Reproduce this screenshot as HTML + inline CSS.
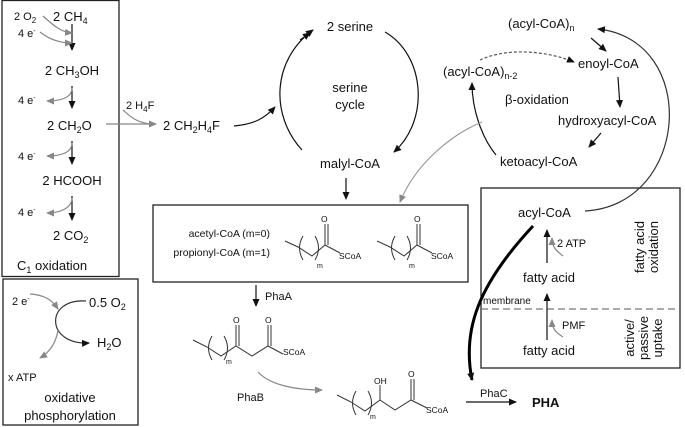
<!DOCTYPE html>
<html><head><style>body{margin:0;background:#fff}svg{display:block}text{font-family:"Liberation Sans",sans-serif;fill:#111}</style></head><body>
<svg width="685" height="427" viewBox="0 0 685 427" xmlns="http://www.w3.org/2000/svg">
<defs>
<marker id="a" markerWidth="8" markerHeight="8" refX="7" refY="4" orient="auto" markerUnits="userSpaceOnUse"><path d="M0,0.5 L8,4 L0,7.5z" fill="#111"/></marker>
<marker id="g" markerWidth="8" markerHeight="8" refX="7" refY="4" orient="auto" markerUnits="userSpaceOnUse"><path d="M0,0.5 L8,4 L0,7.5z" fill="#888"/></marker>
</defs>
<g fill="none" stroke="#222" stroke-width="1.3">
<rect x="2" y="0.5" width="117" height="276"/>
<rect x="3" y="279" width="135" height="146"/>
<rect x="153" y="205" width="315" height="77"/>
<rect x="481" y="188" width="199" height="180"/>
</g>
<line x1="481" y1="309" x2="680" y2="309" stroke="#777" stroke-width="1.3" stroke-dasharray="7,4"/>
<g font-size="13">
<text x="14" y="20" font-size="11">2 O<tspan font-size="8" dy="3">2</tspan></text>
<text x="53" y="21">2 CH<tspan font-size="9" dy="3">4</tspan></text>
<text x="18" y="37" font-size="11">4 e<tspan font-size="7" dy="-4">-</tspan></text>
<text x="72" y="75" text-anchor="middle">2 CH<tspan font-size="9" dy="3">3</tspan><tspan dy="-3">OH</tspan></text>
<text x="18" y="104" font-size="11">4 e<tspan font-size="7" dy="-4">-</tspan></text>
<text x="47" y="130">2 CH<tspan font-size="9" dy="3">2</tspan><tspan dy="-3">O</tspan></text>
<text x="18" y="160" font-size="11">4 e<tspan font-size="7" dy="-4">-</tspan></text>
<text x="72" y="185" text-anchor="middle">2 HCOOH</text>
<text x="18" y="216" font-size="11">4 e<tspan font-size="7" dy="-4">-</tspan></text>
<text x="53" y="240">2 CO<tspan font-size="9" dy="3">2</tspan></text>
<text x="17" y="270">C<tspan font-size="9" dy="3">1</tspan><tspan dy="-3"> oxidation</tspan></text>
<text x="126" y="109" font-size="11">2 H<tspan font-size="8" dy="3">4</tspan><tspan dy="-3">F</tspan></text>
<text x="163" y="130">2 CH<tspan font-size="9" dy="3">2</tspan><tspan dy="-3">H</tspan><tspan font-size="9" dy="3">4</tspan><tspan dy="-3">F</tspan></text>
</g>
<g fill="none" stroke-width="1.2">
<line x1="72" y1="24" x2="72" y2="50" stroke="#111" marker-end="url(#a)"/>
<path d="M43,16 C52,24 60,32 72,33" stroke="#888" marker-end="url(#g)"/>
<path d="M40,32 C50,40 60,43 72,43" stroke="#888" marker-end="url(#g)"/>
<line x1="72" y1="86" x2="72" y2="108" stroke="#111" marker-end="url(#a)"/>
<path d="M72,88 C72,98 60,101 47,101" stroke="#888" marker-end="url(#g)"/>
<line x1="72" y1="141" x2="72" y2="164" stroke="#111" marker-end="url(#a)"/>
<path d="M72,143 C72,153 60,156 47,156" stroke="#888" marker-end="url(#g)"/>
<line x1="72" y1="196" x2="72" y2="220" stroke="#111" marker-end="url(#a)"/>
<path d="M72,198 C72,208 60,213 47,213" stroke="#888" marker-end="url(#g)"/>
<line x1="106" y1="124" x2="156" y2="124" stroke="#888" marker-end="url(#g)"/>
<path d="M123,110 C130,116 135,122 150,124" stroke="#888"/>
<path d="M234,126 C255,124 265,118 275,107" stroke="#111" marker-end="url(#a)"/>
<path d="M302,150 C270,115 272,60 313,30" stroke="#111" marker-end="url(#a)"/>
<path d="M300,40 L310,33" stroke="#111" marker-end="url(#a)"/>
<path d="M385,32 C425,55 430,120 394,152" stroke="#111" marker-end="url(#a)"/>
<line x1="346" y1="178" x2="346" y2="199" stroke="#111" marker-end="url(#a)"/>
<line x1="591" y1="38" x2="606" y2="51" stroke="#111" marker-end="url(#a)"/>
<line x1="618" y1="77" x2="620" y2="107" stroke="#111" marker-end="url(#a)"/>
<line x1="601" y1="133" x2="589" y2="147" stroke="#111" marker-end="url(#a)"/>
<path d="M496,155 C482,138 472,110 472,83" stroke="#111" marker-end="url(#a)"/>
<path d="M480,60 C505,48 545,50 574,62" stroke="#555" stroke-dasharray="3,2" marker-end="url(#a)"/>
<path d="M482,122 C450,135 415,165 400,202" stroke="#999" marker-end="url(#g)"/>
<path d="M585,211 C690,205 700,40 598,29" stroke="#333" marker-end="url(#a)"/>
<path d="M533,226 C478,285 462,330 472,380" stroke="#000" stroke-width="3" marker-end="url(#a)"/>
<line x1="547" y1="263" x2="547" y2="230" stroke="#111" marker-end="url(#a)"/>
<path d="M563,256 C555,250 552,246 552,238" stroke="#888" marker-end="url(#g)"/>
<line x1="547" y1="340" x2="547" y2="294" stroke="#111" marker-end="url(#a)"/>
<path d="M563,337 C555,332 552,328 552,320" stroke="#888" marker-end="url(#g)"/>
<path d="M258,372 C270,385 295,390 322,390" stroke="#888" marker-end="url(#g)"/>
<line x1="256" y1="285" x2="256" y2="306" stroke="#111" marker-end="url(#a)"/>
<line x1="466" y1="402" x2="516" y2="402" stroke="#111" marker-end="url(#a)"/>
<path d="M86,301 C45,298 45,345 89,343" stroke="#333" marker-end="url(#a)"/>
<path d="M30,294 C45,295 52,300 58,309" stroke="#888" marker-end="url(#g)"/>
<path d="M58,330 C56,343 50,352 40,358" stroke="#888" marker-end="url(#g)"/>
</g>
<g font-size="13">
<text x="350" y="31" text-anchor="middle">2 serine</text>
<text x="350" y="92" text-anchor="middle">serine</text>
<text x="350" y="109" text-anchor="middle">cycle</text>
<text x="350" y="168" text-anchor="middle">malyl-CoA</text>
<text x="508" y="28">(acyl-CoA)<tspan font-size="9" dy="3">n</tspan></text>
<text x="578" y="68">enoyl-CoA</text>
<text x="443" y="76">(acyl-CoA)<tspan font-size="9" dy="3">n-2</tspan></text>
<text x="505" y="104">β-oxidation</text>
<text x="558" y="125">hydroxyacyl-CoA</text>
<text x="500" y="166">ketoacyl-CoA</text>
<text x="518" y="217">acyl-CoA</text>
<text x="557" y="247" font-size="11">2 ATP</text>
<text x="549" y="282" text-anchor="middle">fatty acid</text>
<text x="483" y="304" font-size="10">membrane</text>
<text x="562" y="329" font-size="11">PMF</text>
<text x="549" y="355" text-anchor="middle">fatty acid</text>
<text transform="translate(644,247) rotate(-90)" text-anchor="middle">fatty acid</text>
<text transform="translate(658,247) rotate(-90)" text-anchor="middle">oxidation</text>
<text transform="translate(634,338) rotate(-90)" text-anchor="middle">active/</text>
<text transform="translate(648,338) rotate(-90)" text-anchor="middle">passive</text>
<text transform="translate(662,338) rotate(-90)" text-anchor="middle">uptake</text>
<text x="270" y="237" font-size="10.5" text-anchor="end">acetyl-CoA (m=0)</text>
<text x="270" y="256" font-size="10.5" text-anchor="end">propionyl-CoA (m=1)</text>
<text x="265" y="300" font-size="11">PhaA</text>
<text x="237" y="401" font-size="11">PhaB</text>
<text x="480" y="397" font-size="11">PhaC</text>
<text x="532" y="407" font-weight="bold">PHA</text>
<text x="12" y="305" font-size="11">2 e<tspan font-size="7" dy="-4">-</tspan></text>
<text x="89" y="307">0.5 O<tspan font-size="9" dy="3">2</tspan></text>
<text x="97" y="347">H<tspan font-size="9" dy="3">2</tspan><tspan dy="-3">O</tspan></text>
<text x="8" y="381" font-size="11">x ATP</text>
<text x="70" y="402" text-anchor="middle">oxidative</text>
<text x="70" y="420" text-anchor="middle">phosphorylation</text>
</g>
<g fill="none" stroke="#333" stroke-width="1">
<path d="M285,241 L298,247 L312,256 L325,245 L340,253"/><path d="M325,245 L325,224 M328,245 L328,224"/>
<path d="M303,236 Q296,248 303,260 M315,236 Q322,248 315,260"/>
<path d="M377,241 L390,247 L404,256 L417,245 L432,253"/><path d="M417,245 L417,224 M420,245 L420,224"/>
<path d="M395,236 Q388,248 395,260 M407,236 Q414,248 407,260"/>
<path d="M193,340 L207,347 L221,356 L236,346 L252,356 L268,346 L283,354"/><path d="M236,346 L236,325 M239,346 L239,325 M268,346 L268,325 M271,346 L271,325"/>
<path d="M212,336 Q205,348 212,360 M224,336 Q231,348 224,360"/>
<path d="M337,395 L351,402 L365,411 L380,400 L395,410 L411,400 L427,408"/><path d="M380,400 L380,385 M411,400 L411,379 M414,400 L414,379"/>
<path d="M356,391 Q349,403 356,415 M368,391 Q375,403 368,415"/>
</g>
<g font-size="8.5">
<text x="321" y="222">O</text><text x="339" y="259">SCoA</text><text x="317" y="268" font-size="7">m</text>
<text x="414" y="222">O</text><text x="431" y="259">SCoA</text><text x="409" y="268" font-size="7">m</text>
<text x="233" y="323">O</text><text x="265" y="323">O</text><text x="283" y="355">SCoA</text><text x="226" y="364" font-size="7">m</text>
<text x="374" y="384">OH</text><text x="408" y="377">O</text><text x="426" y="413">SCoA</text><text x="370" y="419" font-size="7">m</text>
</g>
</svg>
</body></html>
